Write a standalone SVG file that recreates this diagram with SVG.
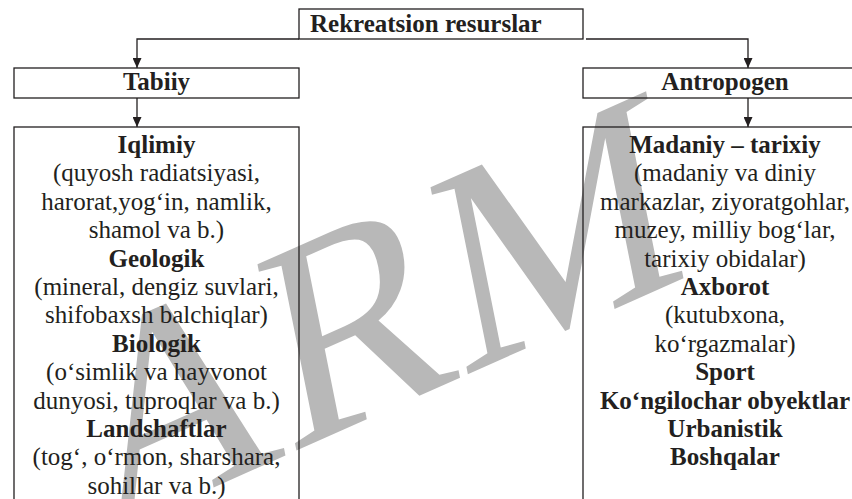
<svg xmlns="http://www.w3.org/2000/svg" width="852" height="499" viewBox="0 0 852 499">
<defs>
<style>
.box{fill:none;stroke:#231f20;stroke-width:1.3}
.conn{fill:none;stroke:#231f20;stroke-width:1.3}
text{font-family:"Liberation Serif","Times New Roman",serif;font-size:25px;fill:#231f20}
.b{font-weight:bold}
.c{text-anchor:middle}
.wm{font-size:284px;fill:#b8b8b8}
</style>
<marker id="ah" markerUnits="userSpaceOnUse" markerWidth="10" markerHeight="9" refX="10" refY="4.5" orient="auto">
<path d="M0,0 L10,4.5 L0,9 z" fill="#231f20"/>
</marker>
</defs>
<rect width="852" height="499" fill="#ffffff"/>
<g id="watermark">
<text class="wm" transform="matrix(0.9135,-0.4067,0.201,1.005,100,538)">ARM</text>
</g>
<g id="connectors">
<path class="conn" d="M299,39 H137 V68" marker-end="url(#ah)"/>
<path class="conn" d="M586,39 H748 V68" marker-end="url(#ah)"/>
<path class="conn" d="M137,98 V127" marker-end="url(#ah)"/>
<path class="conn" d="M748,98 V127" marker-end="url(#ah)"/>
</g>
<g id="root">
<rect class="box" x="299" y="9" width="284" height="30"/>
<text class="b" x="310" y="32">Rekreatsion resurslar</text>
</g>
<g id="tabiiy">
<rect class="box" x="14" y="68" width="285" height="30"/>
<text class="b c" x="156.5" y="90">Tabiiy</text>
</g>
<g id="antropogen">
<rect class="box" x="583" y="68" width="290" height="30"/>
<text class="b c" x="725" y="90">Antropogen</text>
</g>
<g id="tabiiy-list">
<rect class="box" x="14" y="127" width="285" height="400"/>
<text class="b c" x="156.5" y="153">Iqlimiy</text>
<text class="c" x="156.5" y="181.4">(quyosh radiatsiyasi,</text>
<text class="c" x="156.5" y="209.8">harorat,yog‘in, namlik,</text>
<text class="c" x="156.5" y="238.2">shamol va b.)</text>
<text class="b c" x="156.5" y="266.6">Geologik</text>
<text class="c" x="156.5" y="295">(mineral, dengiz suvlari,</text>
<text class="c" x="156.5" y="323.4">shifobaxsh balchiqlar)</text>
<text class="b c" x="156.5" y="351.8">Biologik</text>
<text class="c" x="156.5" y="380.2">(o‘simlik va hayvonot</text>
<text class="c" x="156.5" y="408.6">dunyosi, tuproqlar va b.)</text>
<text class="b c" x="156.5" y="437">Landshaftlar</text>
<text class="c" x="156.5" y="465.4">(tog‘, o‘rmon, sharshara,</text>
<text class="c" x="156.5" y="493.8">sohillar va b.)</text>
</g>
<g id="antropogen-list">
<rect class="box" x="583" y="127" width="290" height="400"/>
<text class="b c" x="725" y="153">Madaniy – tarixiy</text>
<text class="c" x="725" y="181.4">(madaniy va diniy</text>
<text class="c" x="725" y="209.8">markazlar, ziyoratgohlar,</text>
<text class="c" x="725" y="238.2">muzey, milliy bog‘lar,</text>
<text class="c" x="725" y="266.6">tarixiy obidalar)</text>
<text class="b c" x="725" y="295">Axborot</text>
<text class="c" x="725" y="323.4">(kutubxona,</text>
<text class="c" x="725" y="351.8">ko‘rgazmalar)</text>
<text class="b c" x="725" y="380.2">Sport</text>
<text class="b c" x="725" y="408.6">Ko‘ngilochar obyektlar</text>
<text class="b c" x="725" y="437">Urbanistik</text>
<text class="b c" x="725" y="465.4">Boshqalar</text>
</g>
</svg>
